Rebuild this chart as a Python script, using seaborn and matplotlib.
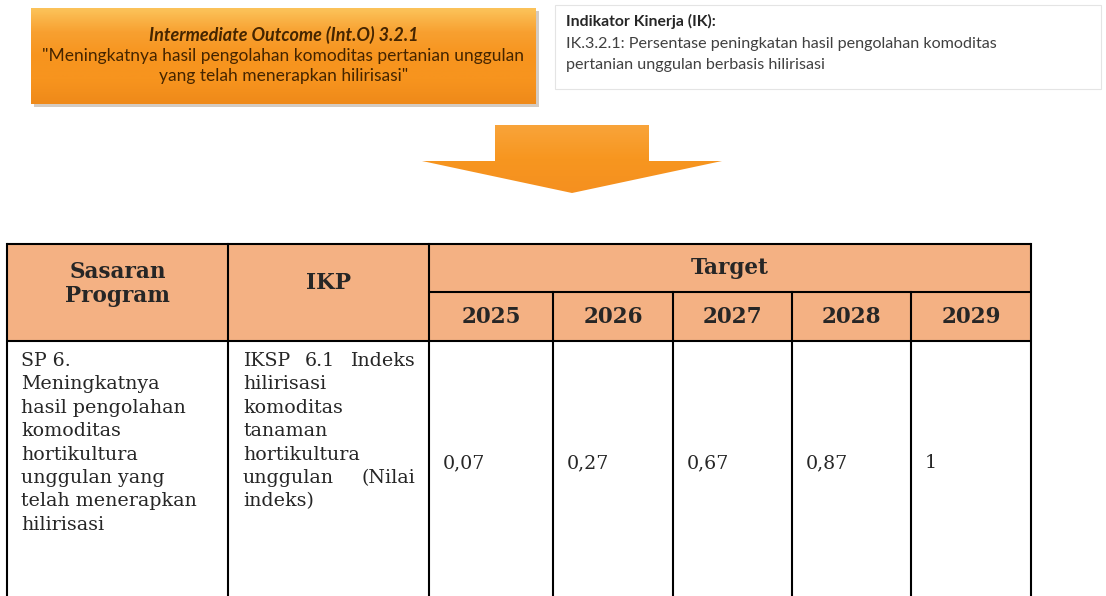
import matplotlib.pyplot as plt
import seaborn as sns
import numpy as np
from matplotlib.patches import Rectangle, Polygon

# --- content ---
outcome_title = "Intermediate Outcome (Int.O) 3.2.1"
outcome_lines = ["\"Meningkatnya hasil pengolahan komoditas pertanian unggulan",
                 "yang telah menerapkan hilirisasi\""]
ik_title = "Indikator Kinerja (IK):"
ik_lines = ["IK.3.2.1: Persentase peningkatan hasil pengolahan komoditas",
            "pertanian unggulan berbasis hilirisasi"]

header_cols = ["Sasaran\nProgram", "IKP"]
target_label = "Target"
years = ["2025", "2026", "2027", "2028", "2029"]
targets = ["0,07", "0,27", "0,67", "0,87", "1"]
sasaran_lines = ["SP 6.", "Meningkatnya", "hasil pengolahan", "komoditas",
                 "hortikultura", "unggulan yang", "telah menerapkan", "hilirisasi"]
ikp_lines = ["IKSP 6.1 Indeks", "hilirisasi", "komoditas", "tanaman",
             "hortikultura", "unggulan (Nilai", "indeks)"]
ikp_justify = [True, False, False, False, False, True, False]

sns.set_theme(style="white")
plt.rcParams["font.family"] = ["DejaVu Serif"]

W, H = 1106, 596
fig = plt.figure(figsize=(W / 100, H / 100), dpi=100)
ax = fig.add_axes([0, 0, 1, 1])
ax.set_xlim(0, W)
ax.set_ylim(H, 0)
ax.axis("off")

orange = "#F7941E"
peach = "#F4B183"


def gradient_fill(patch, colors, extent):
    ax.add_patch(patch)
    grad = np.linspace(0, 1, 100)[:, None]
    cmap = sns.blend_palette(colors, as_cmap=True)
    im = ax.imshow(grad, cmap=cmap, extent=extent, aspect="auto", zorder=patch.get_zorder())
    im.set_clip_path(patch)


# --- orange outcome box ---
bx0, by0, bx1, by1 = 31, 8, 536, 104
ax.add_patch(Rectangle((bx0 + 3, by0 + 3), bx1 - bx0, by1 - by0, fc="#a89888", ec="none", alpha=0.5, zorder=1))
box = Rectangle((bx0, by0), bx1 - bx0, by1 - by0, fc="none", ec="none", zorder=2)
gradient_fill(box, ["#FCC35A", "#F8A030", orange, orange, "#EF8A1A"], (bx0, bx1, by1, by0))
cx = (bx0 + bx1) / 2
ax.text(cx, 41, outcome_title, family="Lato", style="italic", weight="bold", fontsize=13,
        color="#452500", ha="center", va="baseline", zorder=3)
for i, line in enumerate(outcome_lines):
    ax.text(cx, 61 + 20 * i, line, family="Lato", fontsize=12.5, color="#452500",
            ha="center", va="baseline", zorder=3)

# --- indikator box ---
ax.add_patch(Rectangle((555, 5), 546, 84, fc="white", ec="#e4e4e4", lw=0.8, zorder=1))
ax.text(566, 26, ik_title, family="Lato", weight="bold", fontsize=11.3, color="#262626", va="baseline")
for i, line in enumerate(ik_lines):
    ax.text(566, 48 + 21 * i, line, family="Lato", fontsize=11.6, color="#404040", va="baseline")

# --- arrow ---
arrow_pts = [(495, 125), (649, 125), (649, 161), (722, 161), (572, 193), (422, 161), (495, 161)]
arrow = Polygon(arrow_pts, closed=True, fc="none", ec="none", zorder=2)
gradient_fill(arrow, ["#F9A43A", "#F7961F", "#F59020"], (422, 722, 193, 125))

# --- table ---
cols = [7, 228, 429, 553, 673, 792, 911, 1031]
top, mid, hdr_bot, bottom = 244, 292, 341, 600
lw = 1.5

ax.add_patch(Rectangle((cols[0], top), cols[-1] - cols[0], hdr_bot - top, fc=peach, ec="none", zorder=1))
for x in cols:
    y0 = mid if x in cols[3:-1] else top
    ax.plot([x, x], [y0, bottom], color="black", lw=lw, solid_capstyle="projecting", zorder=4)
ax.plot([cols[0], cols[-1]], [top, top], color="black", lw=lw, zorder=4)
ax.plot([cols[2], cols[-1]], [mid, mid], color="black", lw=lw, zorder=4)
ax.plot([cols[0], cols[-1]], [hdr_bot, hdr_bot], color="black", lw=lw, zorder=4)

hfs = 15.5
sas1, sas2 = header_cols[0].split("\n")
ax.text((cols[0] + cols[1]) / 2, 278, sas1, weight="bold", fontsize=hfs,
        ha="center", va="baseline", zorder=5)
ax.text((cols[0] + cols[1]) / 2, 302, sas2, weight="bold", fontsize=hfs,
        ha="center", va="baseline", zorder=5)
ax.text((cols[1] + cols[2]) / 2, 289, header_cols[1], weight="bold", fontsize=hfs,
        ha="center", va="baseline", zorder=5)
ax.text((cols[2] + cols[-1]) / 2, 274, target_label, weight="bold", fontsize=hfs,
        ha="center", va="baseline", zorder=5)
for i, yr in enumerate(years):
    ax.text((cols[2 + i] + cols[3 + i]) / 2, 323, yr, weight="bold", fontsize=hfs,
            ha="center", va="baseline", zorder=5)

bfs = 13.7
lead = 23.4
base0 = 366
for i, line in enumerate(sasaran_lines):
    ax.text(cols[0] + 14, base0 + lead * i, line, fontsize=bfs, va="baseline", zorder=5)

renderer = fig.canvas.get_renderer()
for i, (line, just) in enumerate(zip(ikp_lines, ikp_justify)):
    y = base0 + lead * i
    x_left, x_right = cols[1] + 15, cols[2] - 14
    if not just:
        ax.text(x_left, y, line, fontsize=bfs, va="baseline", zorder=5)
        continue
    words = line.split()
    objs = [ax.text(0, y, w, fontsize=bfs, va="baseline", zorder=5) for w in words]
    widths = [o.get_window_extent(renderer).width for o in objs]
    gap = (x_right - x_left - sum(widths)) / (len(words) - 1)
    x = x_left
    for o, w in zip(objs, widths):
        o.set_x(x)
        x += w + gap

for i, val in enumerate(targets):
    ax.text(cols[2 + i] + 14, 468, val, fontsize=bfs, va="baseline", zorder=5)

fig.savefig("out.png", dpi=100, facecolor="white")
